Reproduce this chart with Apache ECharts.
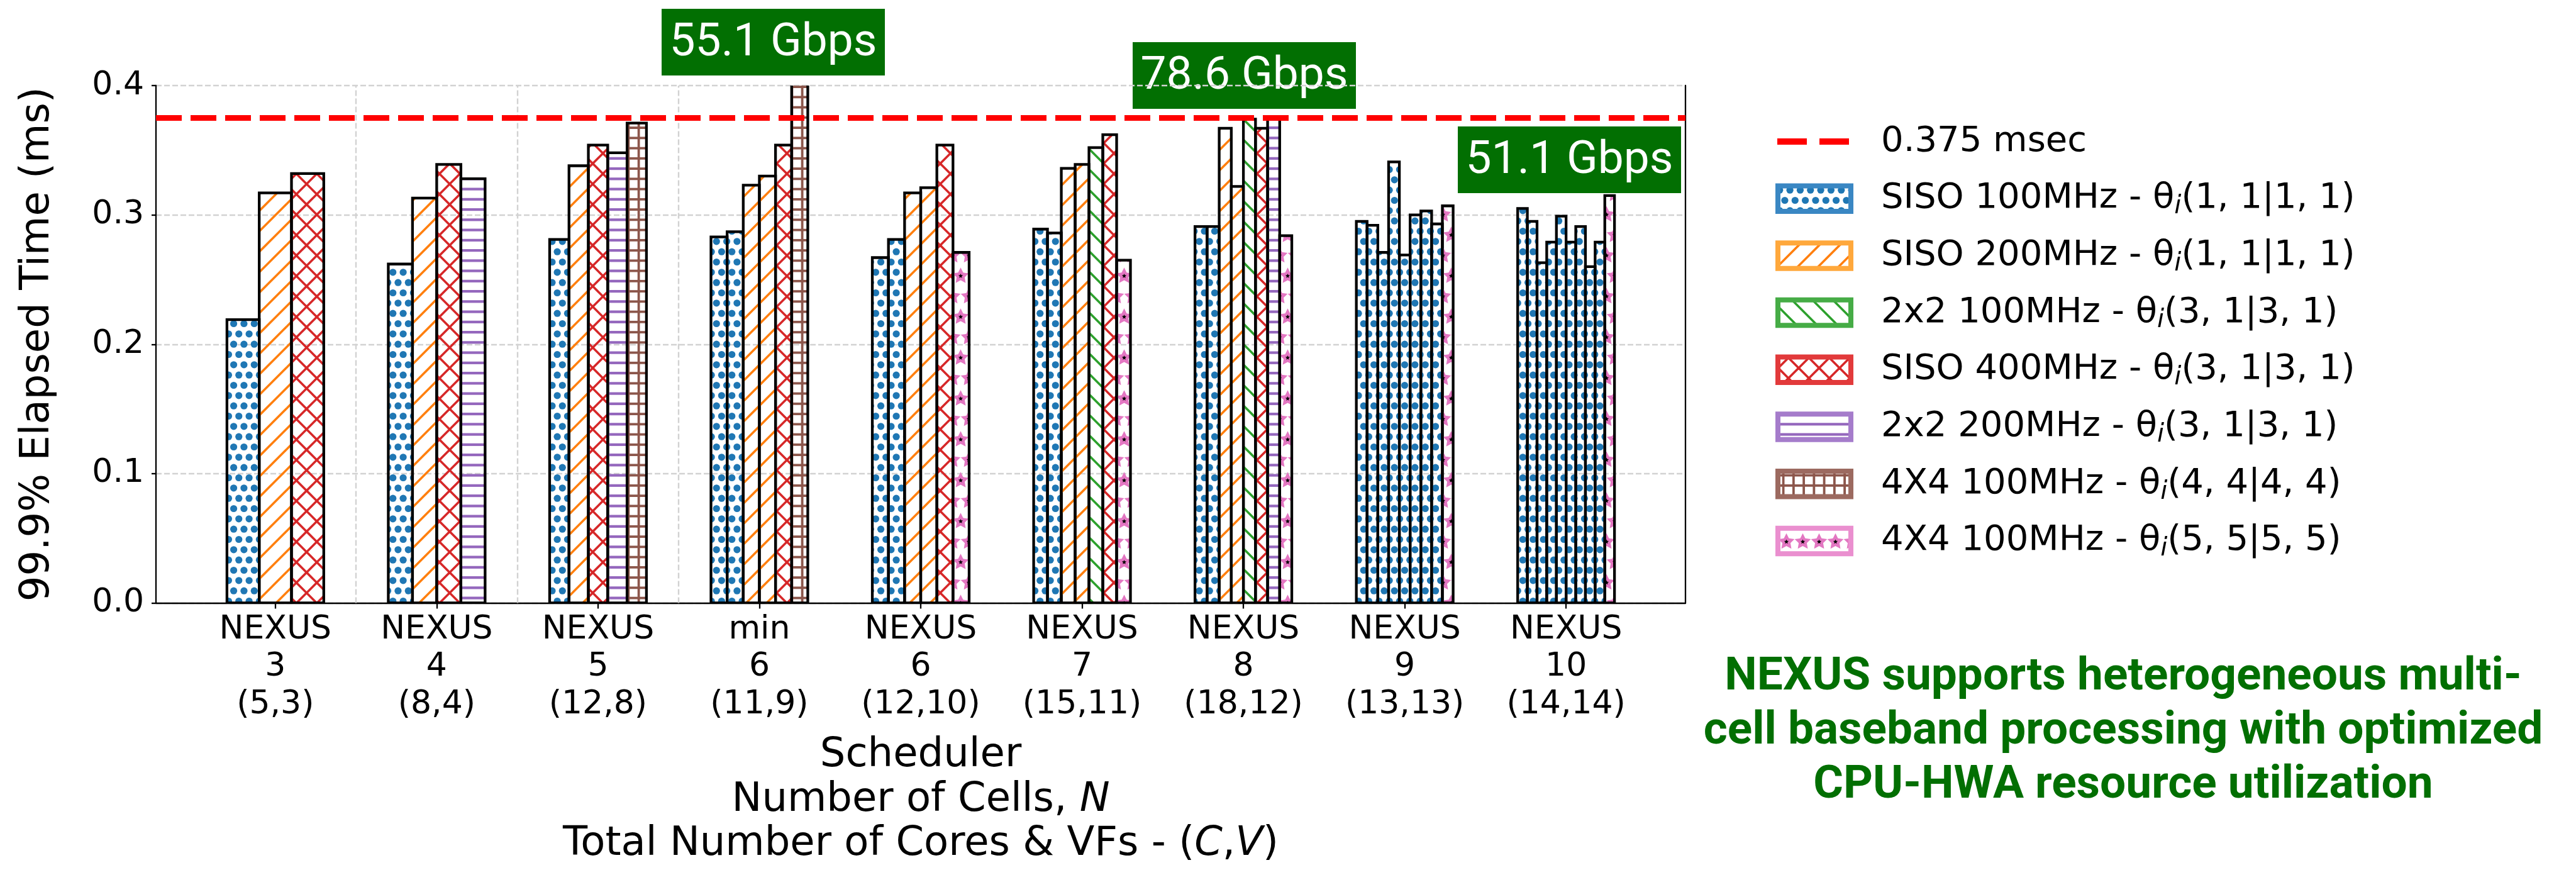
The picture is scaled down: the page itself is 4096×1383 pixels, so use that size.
<!DOCTYPE html>
<html>
<head>
<meta charset="utf-8">
<script src="https://cdn.jsdelivr.net/npm/echarts@6/dist/echarts.min.js"></script>
<style>
  html, body { margin: 0; padding: 0; background: #fff; }
  #chart { width: 4096px; height: 1383px; }
</style>
</head>
<body>
<div id="chart"></div>
<script>
// scheduler / cells / (cores, VFs)
const categories = ['NEXUS\n3\n(5,3)', 'NEXUS\n4\n(8,4)', 'NEXUS\n5\n(12,8)', 'min\n6\n(11,9)',
  'NEXUS\n6\n(12,10)', 'NEXUS\n7\n(15,11)', 'NEXUS\n8\n(18,12)', 'NEXUS\n9\n(13,13)', 'NEXUS\n10\n(14,14)'];

// cell type per bar: 0 SISO100, 1 SISO200, 2 2x2 100, 3 SISO400, 4 2x2 200, 5 4x4 (4,4), 6 4x4 (5,5)
const cellTypes = [
  [0, 1, 3],
  [0, 1, 3, 4],
  [0, 1, 3, 4, 5],
  [0, 0, 1, 1, 3, 5],
  [0, 0, 1, 1, 3, 6],
  [0, 0, 1, 1, 2, 3, 6],
  [0, 0, 1, 1, 2, 3, 4, 6],
  [0, 0, 0, 0, 0, 0, 0, 0, 6],
  [0, 0, 0, 0, 0, 0, 0, 0, 0, 6]
];

// 99.9% elapsed time (ms) per cell
const cellLatency = [
  [0.219, 0.317, 0.332],
  [0.262, 0.313, 0.339, 0.328],
  [0.281, 0.338, 0.354, 0.348, 0.371],
  [0.283, 0.287, 0.323, 0.330, 0.354, 0.430],
  [0.267, 0.281, 0.317, 0.321, 0.354, 0.271],
  [0.289, 0.286, 0.336, 0.339, 0.352, 0.362, 0.265],
  [0.291, 0.291, 0.367, 0.322, 0.374, 0.367, 0.375, 0.284],
  [0.295, 0.292, 0.271, 0.341, 0.269, 0.300, 0.303, 0.293, 0.307],
  [0.305, 0.295, 0.263, 0.279, 0.299, 0.279, 0.291, 0.260, 0.279, 0.315]
];

const typeNames = ['SISO 100MHz', 'SISO 200MHz', '2x2 100MHz', 'SISO 400MHz', '2x2 200MHz', '4X4 100MHz', '4X4 100MHz'];
const typeTheta = ['1, 1|1, 1', '1, 1|1, 1', '3, 1|3, 1', '3, 1|3, 1', '3, 1|3, 1', '4, 4|4, 4', '5, 5|5, 5'];
const hatchKinds = ['dots', 'fwd', 'back', 'cross', 'hline', 'plus', 'star'];
const hatchColors = ['#1f77b4', '#ff7f0e', '#2ca02c', '#d62728', '#9467bd', '#8c564b', '#e377c2'];
const legendEdge = ['#3a87c3', '#ffa83c', '#46ac46', '#e23a3b', '#a57ccb', '#9c6a60', '#ea8fcf'];

const deadline = 0.375;
const xRange = [-0.74, 8.74];
const gbpsLabels = ['55.1 Gbps', '78.6 Gbps', '51.1 Gbps'];
const noteLines = ['NEXUS supports heterogeneous multi-', 'cell baseband processing with optimized', 'CPU-HWA resource utilization'];

const groupWidth = 0.6;
const FONT = 'DejaVu Sans';
const GREEN = '#026f02';

// hatch tiles drawn on small canvases
function diag(ctx, S, n, dir) {
  const p = S / n;
  for (let k = -n - 2; k <= 2 * n + 2; k++) {
    const c = k * p;
    ctx.beginPath();
    if (dir > 0) { ctx.moveTo(c + 10, -10); ctx.lineTo(c - S - 10, S + 10); }
    else { ctx.moveTo(c - 10, -10); ctx.lineTo(c + S + 10, S + 10); }
    ctx.stroke();
  }
}
function starPath(ctx, cx, cy, R, ratio) {
  ctx.beginPath();
  for (let i = 0; i < 10; i++) {
    const a = -Math.PI / 2 + i * Math.PI / 5;
    const r = i % 2 === 0 ? R : R * ratio;
    const x = cx + r * Math.cos(a), y = cy + r * Math.sin(a);
    if (i === 0) ctx.moveTo(x, y); else ctx.lineTo(x, y);
  }
  ctx.closePath();
}
function makeTile(kind, color) {
  const c = document.createElement('canvas');
  if (kind === 'dots') { c.width = 49; c.height = 98; }
  else if (kind === 'hline') { c.width = 8; c.height = 65; }
  else if (kind === 'star') { c.width = 26; c.height = 65; }
  else { c.width = 65; c.height = 65; }
  const ctx = c.getContext('2d');
  ctx.strokeStyle = color;
  ctx.fillStyle = color;
  if (kind === 'dots') {
    const p = 49 / 3;
    for (let r = 0; r < 6; r++) {
      for (let k = -1; k <= 3; k++) {
        const x = k * p + (r % 2) * p / 2 + p / 4, y = r * p + p / 2;
        ctx.beginPath(); ctx.arc(x, y, 5.6, 0, Math.PI * 2); ctx.fill();
      }
    }
  } else if (kind === 'fwd' || kind === 'back' || kind === 'cross') {
    ctx.lineWidth = 3.6;
    if (kind !== 'back') diag(ctx, 65, 2, 1);
    if (kind !== 'fwd') diag(ctx, 65, 2, -1);
  } else if (kind === 'hline') {
    for (let i = 0; i < 4; i++) ctx.fillRect(0, i * 16.25 + 8.1 - 2.1, 8, 4.2);
  } else if (kind === 'plus') {
    for (let i = 0; i < 4; i++) {
      ctx.fillRect(0, i * 16.25 + 8.1 - 1.9, 65, 3.8);
      ctx.fillRect(i * 16.25 + 8.1 - 1.9, 0, 3.8, 65);
    }
  } else if (kind === 'star') {
    const spots = [];
    [[16.25, 6.5], [48.75, 19.5]].forEach(function (row) {
      for (let k = -1; k <= 1; k++) {
        for (let m = -1; m <= 1; m++) spots.push([row[1] + k * 26, row[0] + m * 65]);
      }
    });
    ctx.fillStyle = color;
    spots.forEach(function (s) { starPath(ctx, s[0], s[1], 13.5, 0.5); ctx.fill(); });
    ctx.fillStyle = '#000';
    spots.forEach(function (s) { starPath(ctx, s[0], s[1], 3.8, 0.45); ctx.fill(); });
  }
  return { image: c, repeat: 'repeat' };
}
const patterns = hatchKinds.map((k, i) => makeTile(k, hatchColors[i]));

// one row per bar: [group, value, slot, barsInGroup, type]
const barData = [];
cellLatency.forEach((vals, g) => {
  vals.forEach((v, s) => barData.push([g, v, s, vals.length, cellTypes[g][s]]));
});

function renderBar(params, api) {
  const g = api.value(0), v = api.value(1), s = api.value(2), n = api.value(3), t = api.value(4);
  const w = groupWidth / n;
  const x0 = g - groupWidth / 2 + s * w;
  const p0 = api.coord([x0, v]);
  const p1 = api.coord([x0 + w, 0]);
  return {
    type: 'rect',
    shape: { x: p0[0], y: p0[1], width: p1[0] - p0[0], height: p1[1] - p0[1] },
    style: { fill: patterns[t], stroke: '#000', lineWidth: 4.3 }
  };
}

const gridDash = { color: '#d2d2d2', width: 2.4, type: [9, 4] };

// legend, annotations, note as graphics
const graphics = [];
const legX = 2823, legTextX = 2991, legY0 = 225, legStep = 90.7;
graphics.push({
  type: 'line', shape: { x1: 2826, y1: legY0, x2: 2940, y2: legY0 },
  style: { stroke: '#ff0000', lineWidth: 10, lineDash: [47, 20] }
});
graphics.push({
  type: 'text', x: legTextX, y: legY0,
  style: { text: '0.375 msec', fontFamily: FONT, fontSize: 56, fill: '#000', verticalAlign: 'middle' }
});
typeNames.forEach((name, i) => {
  const cy = legY0 + (i + 1) * legStep;
  graphics.push({
    type: 'rect', shape: { x: legX + 4, y: cy - 20.25, width: 116, height: 40.5 },
    style: { fill: patterns[i], stroke: legendEdge[i], lineWidth: 8 }
  });
  graphics.push({
    type: 'text', x: legTextX, y: cy,
    style: {
      text: name + ' - θ{sub|i}(' + typeTheta[i] + ')',
      fontFamily: FONT, fontSize: 56, fill: '#000', verticalAlign: 'middle',
      rich: {
        sub: { fontFamily: FONT, fontSize: 40, fontStyle: 'italic', fill: '#000', padding: [26, 0, 0, 0] }
      }
    }
  });
});

const boxes = [[1052, 14], [1801, 67], [2318, 201]];
gbpsLabels.forEach((txt, i) => {
  const [bx, by] = boxes[i];
  graphics.push({ type: 'rect', shape: { x: bx, y: by, width: 355, height: 106 }, style: { fill: GREEN } });
  graphics.push({
    type: 'text', x: bx + 177.5, y: by + 56,
    style: { text: txt, fontFamily: 'Roboto', fontSize: 73, fill: '#fff', align: 'center', verticalAlign: 'middle' }
  });
});

noteLines.forEach((line, i) => {
  graphics.push({
    type: 'text', x: 3376, y: 1078 + i * 86,
    style: { text: line, fontFamily: 'Roboto', fontWeight: 'bold', fontSize: 73, fill: GREEN, align: 'center', verticalAlign: 'middle' }
  });
});

const chart = echarts.init(document.getElementById('chart'));
chart.setOption({
  backgroundColor: '#fff',
  animation: false,
  grid: { left: 248, top: 136, width: 2432, height: 833 },
  xAxis: {
    type: 'value',
    min: xRange[0],
    max: xRange[1],
    name: 'Scheduler\nNumber of Cells, {i|N}\nTotal Number of Cores & VFs - ({i|C},{i|V})',
    nameLocation: 'middle',
    nameGap: 208,
    nameTextStyle: {
      fontFamily: FONT, fontSize: 64, lineHeight: 70.5, color: '#000',
      rich: { i: { fontFamily: FONT, fontSize: 64, lineHeight: 70.5, fontStyle: 'italic', color: '#000' } }
    },
    axisLine: { show: true, onZero: false, lineStyle: { color: '#000', width: 2.3 } },
    axisTick: { show: true, customValues: categories.map((c, i) => i), length: 9, lineStyle: { color: '#000', width: 2.3 } },
    axisLabel: {
      customValues: categories.map((c, i) => i),
      formatter: v => categories[Math.round(v)],
      fontFamily: FONT, fontSize: 52, lineHeight: 59.5, color: '#000', margin: 13
    },
    splitLine: { show: false }
  },
  yAxis: [{
    type: 'value',
    min: 0,
    max: 0.4,
    interval: 0.1,
    name: '99.9% Elapsed Time (ms)',
    nameLocation: 'middle',
    nameGap: 156,
    nameTextStyle: { fontFamily: FONT, fontSize: 64, color: '#000' },
    axisLine: { show: true, onZero: false, lineStyle: { color: '#000', width: 2.3 } },
    axisTick: { show: true, length: 7, lineStyle: { color: '#000', width: 2.3 } },
    axisLabel: { formatter: v => v.toFixed(1), fontFamily: FONT, fontSize: 52, color: '#000', margin: 19 },
    splitLine: { show: true, lineStyle: gridDash }
  }, {
    type: 'value', min: 0, max: 0.4, position: 'right',
    axisLine: { show: true, onZero: false, lineStyle: { color: '#000', width: 2.3 } },
    axisTick: { show: false }, axisLabel: { show: false }, splitLine: { show: false }
  }],
  series: [{
    type: 'custom',
    name: 'cells',
    renderItem: renderBar,
    clip: true,
    encode: { x: 0, y: 1 },
    data: barData,
    markLine: {
      silent: true,
      symbol: 'none',
      label: { show: false },
      data: [
        { xAxis: 0.5, lineStyle: gridDash },
        { xAxis: 1.5, lineStyle: gridDash },
        { xAxis: 2.5, lineStyle: gridDash }
      ]
    }
  }, {
    type: 'line',
    name: '0.375 msec',
    data: [[xRange[0], deadline], [xRange[1], deadline]],
    symbol: 'none',
    silent: true,
    z: 5,
    lineStyle: { color: '#ff0000', width: 9, type: [41, 14] }
  }],
  graphic: graphics
});
</script>
</body>
</html>
